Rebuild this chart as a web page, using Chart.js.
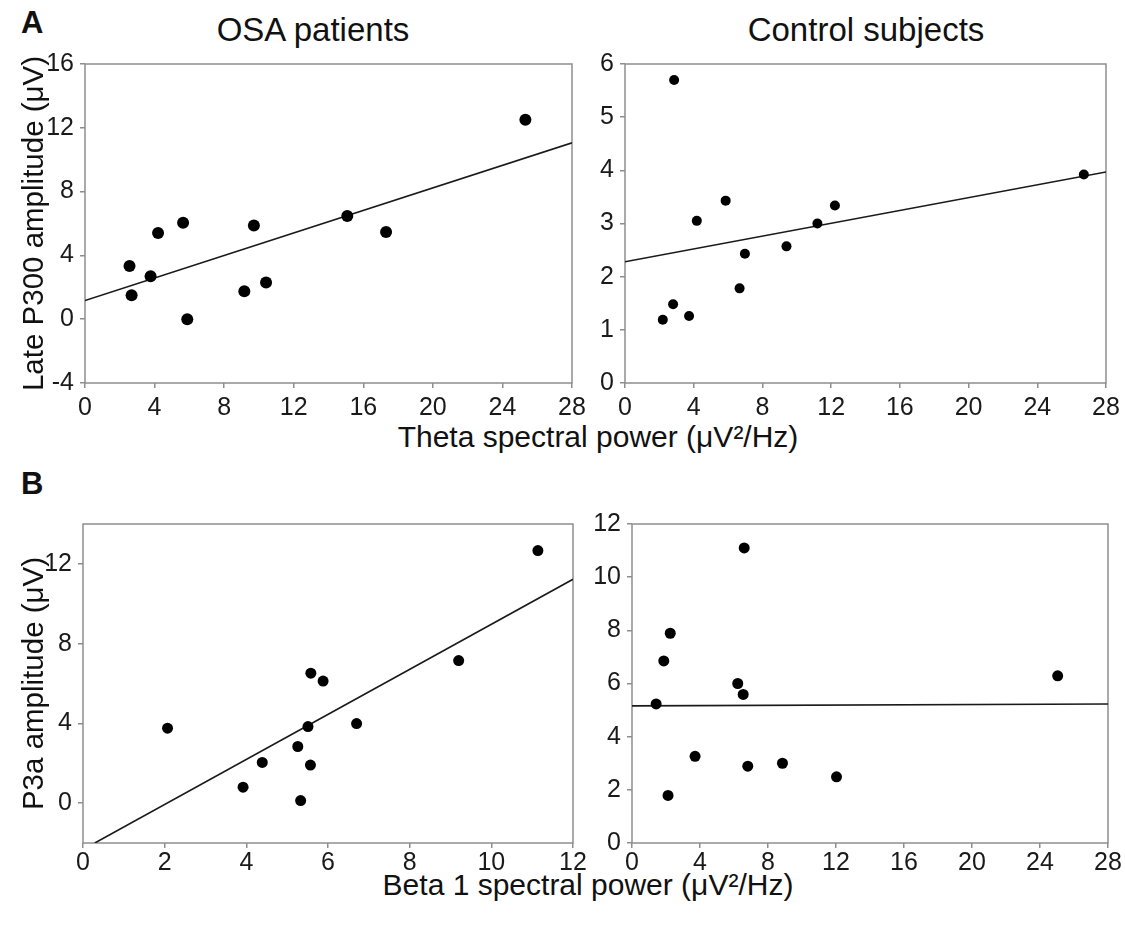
<!DOCTYPE html>
<html>
<head>
<meta charset="utf-8">
<script src="https://cdn.jsdelivr.net/npm/chart.js@4"></script>
<style>
  html, body { margin:0; padding:0; background:#fff; }
  body { width:1125px; height:936px; position:relative; overflow:hidden; font-family:"Liberation Sans", Arial, sans-serif; color:#111; }
  canvas { position:absolute; }
  .txt { position:absolute; white-space:nowrap; line-height:1; }
  .letter { font-weight:bold; font-size:31px; }
  .title { font-size:33px; text-align:center; width:400px; }
  .xtitle { font-size:30px; text-align:center; width:600px; }
</style>
</head>
<body>
<div class="txt letter" style="left:21px; top:7px;">A</div>
<div class="txt title" style="left:113px; top:13px;">OSA patients</div>
<div class="txt title" style="left:666px; top:13px;">Control subjects</div>
<div class="txt xtitle" style="left:298px; top:422px;">Theta spectral power (μV²/Hz)</div>
<div class="txt letter" style="left:21px; top:468px;">B</div>
<div class="txt xtitle" style="left:288px; top:870px;">Beta 1 spectral power (μV²/Hz)</div>

<canvas id="cA1" width="595" height="385" style="left:0px; top:40px;"></canvas>
<canvas id="cA2" width="540" height="385" style="left:585px; top:40px;"></canvas>
<canvas id="cB1" width="595" height="385" style="left:0px; top:500px;"></canvas>
<canvas id="cB2" width="540" height="385" style="left:585px; top:500px;"></canvas>

<script>
// ---- Data ----
// Panel A, OSA patients: theta power vs late P300 amplitude
const osaThetaX   = [2.56, 2.68, 3.77, 4.20, 5.64, 5.88, 9.16, 9.71, 10.41, 15.08, 17.31, 25.32];
const osaLateP300 = [3.34, 1.50, 2.69, 5.41, 6.05, 0.00, 1.75, 5.87, 2.30, 6.47, 5.47, 12.51];
const osaThetaFitX = [0, 28];
const osaThetaFitY = [1.17, 11.06];

// Panel A, control subjects
const ctlThetaX   = [2.86, 2.20, 2.80, 3.73, 4.18, 5.86, 6.67, 6.98, 9.40, 11.20, 12.22, 26.71];
const ctlLateP300 = [5.70, 1.19, 1.48, 1.26, 3.05, 3.43, 1.78, 2.43, 2.57, 3.00, 3.34, 3.92];
const ctlThetaFitX = [0, 28];
const ctlThetaFitY = [2.28, 3.97];

// Panel B, OSA patients: beta 1 power vs P3a amplitude
const osaBeta1X = [2.07, 3.92, 4.39, 5.26, 5.33, 5.51, 5.58, 5.57, 5.88, 6.70, 9.20, 11.14];
const osaP3a    = [3.76, 0.80, 2.04, 2.84, 0.13, 3.84, 6.52, 1.91, 6.12, 3.99, 7.15, 12.67];
const osaBeta1FitX = [0.29, 12];
const osaBeta1FitY = [-2, 11.23];

// Panel B, control subjects
const ctlBeta1X = [1.42, 1.87, 2.25, 2.12, 3.71, 6.22, 6.54, 6.60, 6.81, 8.85, 12.03, 25.04];
const ctlP3a    = [5.23, 6.85, 7.89, 1.79, 3.26, 6.00, 5.59, 11.10, 2.89, 3.00, 2.49, 6.29];
const ctlBeta1FitX = [0, 28];
const ctlBeta1FitY = [5.16, 5.23];

// Tick labels
const thetaTicks      = [0, 4, 8, 12, 16, 20, 24, 28];
const beta1OsaTicks   = [0, 2, 4, 6, 8, 10, 12];
const beta1CtlTicks   = [0, 4, 8, 12, 16, 20, 24, 28];
const osaLateTicks    = [-4, 0, 4, 8, 12, 16];
const ctlLateTicks    = [0, 1, 2, 3, 4, 5, 6];
const osaP3aTicks     = [0, 4, 8, 12];
const ctlP3aTicks     = [0, 2, 4, 6, 8, 10, 12];

// Axis titles
const yTitleA = 'Late P300 amplitude (μV)';
const yTitleB = 'P3a amplitude (μV)';

// ---- Drawing ----
const FONT = '"Liberation Sans", Arial, sans-serif';
const AXIS_GREY = '#8e8e8e';

const framePlugin = {
  id: 'frame',
  beforeDatasetsDraw(chart) {
    const {ctx, chartArea: {left, top, right, bottom}} = chart;
    ctx.save();
    ctx.strokeStyle = AXIS_GREY;
    ctx.lineWidth = 1.5;
    ctx.strokeRect(left, top, right - left, bottom - top);
    ctx.restore();
  }
};

function toPoints(xs, ys) { return xs.map((x, i) => ({x: x, y: ys[i]})); }

function makePanel(id, p) {
  const axisCommon = {
    type: 'linear',
    border: {display: false},
    grid: {display: true, drawOnChartArea: false, drawTicks: true, tickLength: 5, color: AXIS_GREY, lineWidth: 1.5},
  };
  new Chart(document.getElementById(id), {
    type: 'scatter',
    data: {
      datasets: [
        {
          data: toPoints(p.xs, p.ys),
          backgroundColor: '#000', borderColor: '#000',
          pointRadius: p.r, pointHoverRadius: p.r, borderWidth: 0, showLine: false
        },
        {
          data: toPoints(p.fitX, p.fitY),
          showLine: true, pointRadius: 0, borderColor: '#1a1a1a', borderWidth: 1.6, fill: false
        }
      ]
    },
    options: {
      responsive: false, animation: false, devicePixelRatio: 1, events: [],
      layout: {padding: {left: 0, top: 24, right: p.padRight, bottom: 0}},
      plugins: {legend: {display: false}, tooltip: {enabled: false}},
      scales: {
        x: Object.assign({}, axisCommon, {
          min: p.xMin, max: p.xMax,
          afterBuildTicks: s => { s.ticks = p.xTicks.map(v => ({value: v})); },
          afterFit: s => { s.height = 42; },
          ticks: {padding: p.xPad, color: '#1a1a1a', font: {family: FONT, size: 25}, maxRotation: 0, autoSkip: false}
        }),
        y: Object.assign({}, axisCommon, {
          min: p.yMin, max: p.yMax,
          afterBuildTicks: s => { s.ticks = p.yTicks.map(v => ({value: v})); },
          afterFit: s => { s.width = p.yWidth; },
          ticks: {padding: 6, color: '#1a1a1a', font: {family: FONT, size: 25}, autoSkip: false},
          title: {display: !!p.yTitle, text: p.yTitle || '', color: '#111', font: {family: FONT, size: 29.5}, padding: {top: 17, bottom: 0}}
        })
      }
    },
    plugins: [framePlugin]
  });
}

makePanel('cA1', {xs: osaThetaX, ys: osaLateP300, fitX: osaThetaFitX, fitY: osaThetaFitY, r: 6,
  xMin: 0, xMax: 28, xTicks: thetaTicks, yMin: -4, yMax: 16, yTicks: osaLateTicks,
  yWidth: 85, padRight: 23, yTitle: yTitleA, xPad: 5});
makePanel('cA2', {xs: ctlThetaX, ys: ctlLateP300, fitX: ctlThetaFitX, fitY: ctlThetaFitY, r: 5,
  xMin: 0, xMax: 28, xTicks: thetaTicks, yMin: 0, yMax: 6, yTicks: ctlLateTicks,
  yWidth: 40, padRight: 19, xPad: 5});
makePanel('cB1', {xs: osaBeta1X, ys: osaP3a, fitX: osaBeta1FitX, fitY: osaBeta1FitY, r: 5.5,
  xMin: 0, xMax: 12, xTicks: beta1OsaTicks, yMin: -2, yMax: 14, yTicks: osaP3aTicks,
  yWidth: 83, padRight: 22, yTitle: yTitleB, xPad: 0});
makePanel('cB2', {xs: ctlBeta1X, ys: ctlP3a, fitX: ctlBeta1FitX, fitY: ctlBeta1FitY, r: 5.5,
  xMin: 0, xMax: 28, xTicks: beta1CtlTicks, yMin: 0, yMax: 12, yTicks: ctlP3aTicks,
  yWidth: 47, padRight: 17, xPad: 0});
</script>
</body>
</html>
